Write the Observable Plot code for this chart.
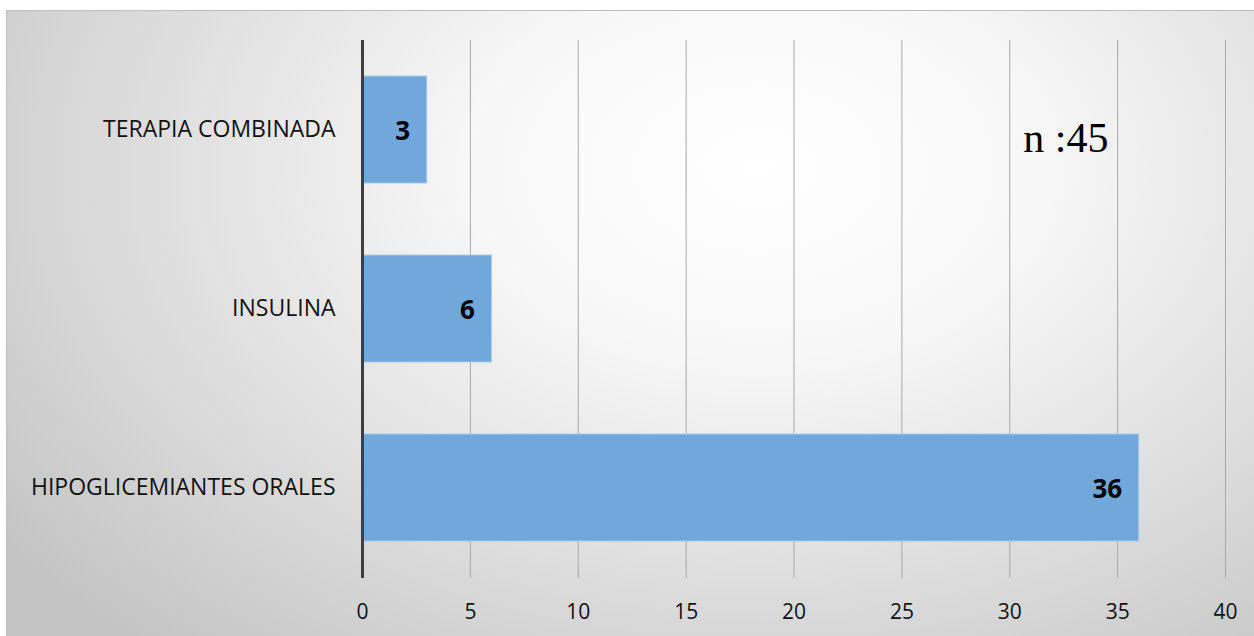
<!DOCTYPE html>
<html>
<head>
<meta charset="utf-8">
<script src="https://cdn.jsdelivr.net/npm/d3@7"></script>
<script src="https://cdn.jsdelivr.net/npm/@observablehq/plot@0.6"></script>
<style>
  html, body { margin: 0; padding: 0; background: #fff; }
  #wrap { position: relative; width: 1254px; height: 636px; overflow: hidden; }
  #panel {
    position: absolute; left: 6px; top: 10px; width: 1252px; height: 630px;
    border-left: 1px solid #bdbdbd; border-top: 1px solid #bdbdbd;
    background: radial-gradient(ellipse 75% 100% at 60% 25%, #ffffff 0%, #f7f7f7 30%, #dedede 65%, #c4c4c4 100%);
  }
  #chart { position: absolute; left: 0; top: 0; }
</style>
</head>
<body>
<div id="wrap"><div id="panel"></div><div id="chart"></div></div>
<script>
// Treatment categories (top to bottom) and patient counts
const categories = ["TERAPIA COMBINADA", "INSULINA", "HIPOGLICEMIANTES ORALES"];
const counts = [3, 6, 36];
const xTicks = [0, 5, 10, 15, 20, 25, 30, 35, 40];
const sampleNote = "n :45";

const rows = categories.map((c, i) => ({category: c, value: counts[i]}));
const labelFont = "'Open Sans', Lato, sans-serif";

const chart = Plot.plot({
  width: 1254,
  height: 636,
  marginLeft: 362,
  marginRight: 29,
  marginTop: 40,
  marginBottom: 58,
  style: {background: "transparent", fontFamily: labelFont, fontSize: "22px", color: "#111"},
  x: {domain: [0, 40], ticks: xTicks, label: null},
  y: {domain: categories, paddingInner: 0.4, paddingOuter: 0.2, label: null},
  marks: [
    Plot.gridX(xTicks.filter(d => d > 0), {stroke: "#a8a8a8", strokeOpacity: 1, strokeWidth: 1}),
    Plot.barX(rows, {x: "value", y: "category", fill: "#70a8dc", stroke: "#a9cbec", strokeWidth: 1}),
    Plot.ruleX([0], {stroke: "#3f3f3f", strokeWidth: 3}),
    Plot.text(rows, {x: "value", y: "category", text: d => String(d.value), textAnchor: "end", dx: -17, dy: 2, fontWeight: "bold", fontSize: 26, fontFamily: labelFont, fill: "#000"}),
    Plot.text([sampleNote], {x: 32.6, y: [categories[0]], text: d => d, fontFamily: "'Liberation Serif', 'Times New Roman', serif", fontSize: 42, dy: 9, fill: "#000"}),
    Plot.axisX({ticks: xTicks, tickSize: 0, tickPadding: 26, tickFormat: d3.format("d"), fontSize: 21, fontFamily: labelFont, fill: "#111"}),
    Plot.axisY({tickSize: 0, tickPadding: 27, fontSize: 23, fontFamily: labelFont, fill: "#111"})
  ]
});
document.getElementById("chart").appendChild(chart);
</script>
</body>
</html>
